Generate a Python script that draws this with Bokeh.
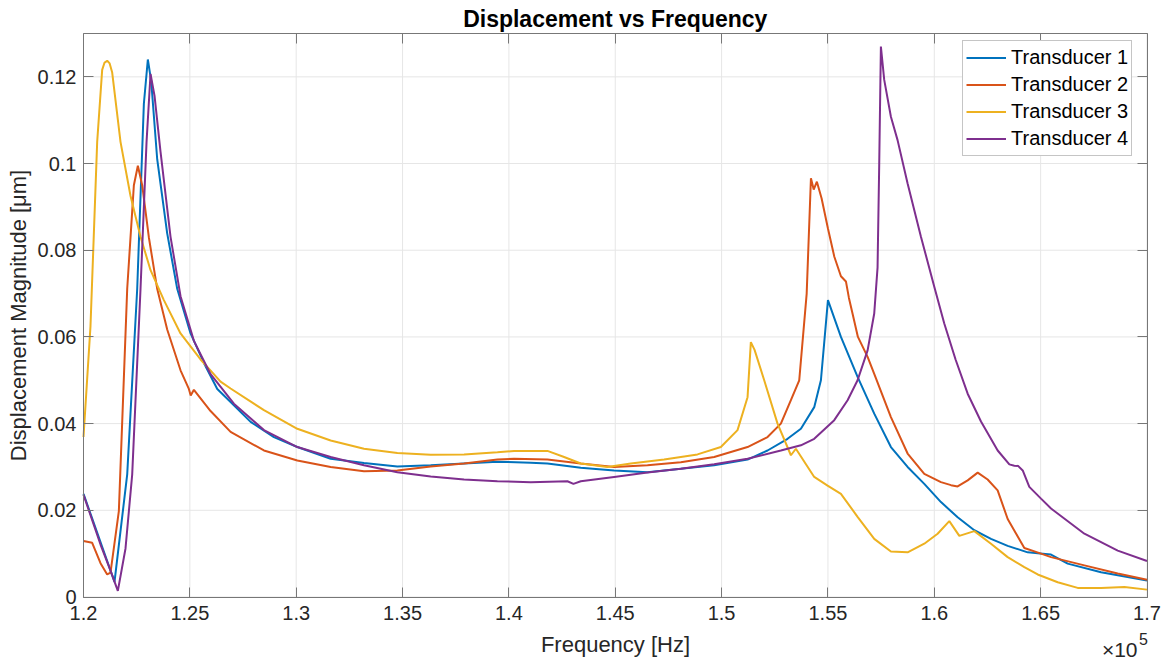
from bokeh.plotting import figure
from bokeh.models import (Range1d, FixedTicker, CustomJSTickFormatter, LinearAxis,
                          Legend, LegendItem, Label)
from bokeh.embed import file_html
from bokeh.resources import INLINE

# ---------------- data (frequency in Hz, displacement in micrometres) ----------------
f1 = [120000, 121458, 122055, 122525, 122838, 123025, 123183, 123465, 123935, 124406,
      125033, 125660, 126289, 126915, 127856, 128952, 130052, 131619, 133187, 134756,
      136323, 137892, 139460, 141027, 141811, 143379, 144947, 146515, 148083, 149651,
      151220, 152160, 153101, 153728, 154355, 154669, 155000, 155610, 156393, 157176,
      157960, 158745, 159529, 160313, 161097, 161881, 162665, 163450, 164390, 165100,
      165488, 166272, 167840, 170000]
t1 = [0.0238, 0.0035, 0.0283, 0.0711, 0.1138, 0.1240, 0.1190, 0.1010, 0.0839, 0.0711,
      0.0608, 0.0540, 0.0480, 0.0450, 0.0404, 0.0369, 0.0346, 0.0319, 0.0309, 0.0301,
      0.0304, 0.0308, 0.0312, 0.0310, 0.0308, 0.0298, 0.0292, 0.0288, 0.0296, 0.0304,
      0.0317, 0.0338, 0.0365, 0.0388, 0.0438, 0.0500, 0.0685, 0.0600, 0.0508, 0.0423,
      0.0346, 0.0300, 0.0261, 0.0219, 0.0184, 0.0154, 0.0134, 0.0118, 0.0103, 0.0100,
      0.0098, 0.0077, 0.0057, 0.0038]

f2 = [120000, 120408, 120800, 121114, 121270, 121662, 122055, 122368, 122556, 122760,
      123072, 123465, 123935, 124562, 124954, 125040, 125190, 125974, 126915, 128483,
      130052, 131619, 133187, 134756, 136323, 137892, 139460, 140243, 141811, 143379,
      144947, 146515, 148083, 149651, 151220, 152160, 152787, 153258, 153650, 154000,
      154200, 154330, 154480, 154700, 155000, 155300, 155610, 155845, 155986, 156174,
      156409, 156864, 157176, 157960, 158745, 159529, 160313, 160785, 161097, 161569,
      162040, 162508, 162978, 163450, 164233, 165017, 165488, 167056, 168624, 170000]
t2 = [0.0129, 0.0125, 0.0078, 0.0052, 0.0056, 0.0198, 0.0711, 0.0950, 0.0995, 0.0950,
      0.0830, 0.0711, 0.0617, 0.0523, 0.0480, 0.0465, 0.0478, 0.0429, 0.0381, 0.0338,
      0.0315, 0.0300, 0.0290, 0.0292, 0.0301, 0.0308, 0.0317, 0.0319, 0.0317, 0.0308,
      0.0300, 0.0304, 0.0311, 0.0323, 0.0346, 0.0369, 0.0400, 0.0454, 0.0500, 0.0700,
      0.0966, 0.0940, 0.0958, 0.0920, 0.0850, 0.0785, 0.0740, 0.0728, 0.0690, 0.0650,
      0.0600, 0.0554, 0.0515, 0.0415, 0.0331, 0.0284, 0.0265, 0.0258, 0.0255, 0.0269,
      0.0287, 0.0271, 0.0246, 0.0180, 0.0113, 0.0100, 0.0092, 0.0073, 0.0054, 0.0040]

f3 = [120000, 120329, 120643, 120878, 120990, 121114, 121230, 121349, 121740, 122211,
      122681, 123152, 123779, 124562, 125503, 126444, 126915, 128483, 130052, 131619,
      133187, 134756, 136323, 137892, 139460, 140243, 141811, 142595, 143379, 144633,
      145731, 147299, 148867, 149965, 150749, 151220, 151375, 151550, 152003, 152630,
      153258, 153493, 154355, 154982, 155610, 156393, 157176, 157960, 158745, 159529,
      160156, 160706, 161176, 161881, 162665, 163450, 164233, 164861, 165802, 166742,
      167840, 168938, 170000]
t3 = [0.0369, 0.0625, 0.1050, 0.1216, 0.1233, 0.1237, 0.1231, 0.1210, 0.1050, 0.0925,
      0.0831, 0.0754, 0.0685, 0.0608, 0.0548, 0.0497, 0.0481, 0.0431, 0.0388, 0.0361,
      0.0342, 0.0332, 0.0328, 0.0329, 0.0334, 0.0337, 0.0337, 0.0323, 0.0308, 0.0300,
      0.0308, 0.0317, 0.0329, 0.0346, 0.0385, 0.0461, 0.0588, 0.0570, 0.0500, 0.0400,
      0.0327, 0.0342, 0.0277, 0.0257, 0.0238, 0.0185, 0.0134, 0.0105, 0.0103, 0.0123,
      0.0146, 0.0175, 0.0141, 0.0152, 0.0123, 0.0092, 0.0069, 0.0052, 0.0034, 0.0021,
      0.0021, 0.0023, 0.0017]

f4 = [120000, 120800, 121270, 121615, 121975, 122290, 122681, 122964, 123152, 123340,
      123622, 124092, 124562, 125190, 125974, 127070, 128483, 130052, 131619, 133187,
      134756, 136323, 137892, 139460, 141027, 142752, 143034, 143379, 144947, 146515,
      148083, 149651, 151220, 152787, 153728, 154355, 155296, 155924, 156393, 156864,
      157176, 157332, 157411, 157489, 157646, 157960, 158273, 158745, 159372, 159999,
      160469, 161000, 161569, 162195, 162980, 163528, 163763, 163950, 164157, 164467,
      165017, 165488, 167056, 168624, 170000]
t4 = [0.0236, 0.0121, 0.0061, 0.0014, 0.0112, 0.0283, 0.0711, 0.1050, 0.1207, 0.1156,
      0.1027, 0.0831, 0.0694, 0.0591, 0.0514, 0.0446, 0.0385, 0.0346, 0.0323, 0.0304,
      0.0288, 0.0278, 0.0271, 0.0267, 0.0265, 0.0267, 0.0261, 0.0267, 0.0277, 0.0287,
      0.0296, 0.0306, 0.0319, 0.0338, 0.0350, 0.0365, 0.0408, 0.0454, 0.0500, 0.0569,
      0.0654, 0.0760, 0.1000, 0.1270, 0.1193, 0.1108, 0.1054, 0.0954, 0.0831, 0.0716,
      0.0631, 0.0548, 0.0469, 0.0405, 0.0338, 0.0306, 0.0303, 0.0302, 0.0292, 0.0254,
      0.0227, 0.0204, 0.0146, 0.0107, 0.0083]

series_names = ["Transducer 1", "Transducer 2", "Transducer 3", "Transducer 4"]
x_ticks = [120000, 125000, 130000, 135000, 140000, 145000, 150000, 155000, 160000, 165000, 170000]
y_ticks = [0, 0.02, 0.04, 0.06, 0.08, 0.10, 0.12]
x_lim = (120000, 170000)
y_lim = (0, 0.13)

title_text = "Displacement vs Frequency"
x_label = "Frequency [Hz]"
y_label = "Displacement Magnitude [\u03bcm]"
exponent_base = "\u00d710"
exponent_power = "5"

# ---------------- layout: the plotting frame fills the whole canvas ----------------
W, H = 1167, 663
AX_L, AX_R, AX_T, AX_B = 83, 1146.5, 33, 596.5     # pixel box of the drawn axes
KX = (AX_R - AX_L) / (x_lim[1] - x_lim[0])
KY = (AX_B - AX_T) / (y_lim[1] - y_lim[0])


def px_x(px):
    return x_lim[0] + (px - AX_L) / KX


def px_y(py):
    return y_lim[0] + (AX_B - py) / KY


colors = ["#0072BD", "#D95319", "#EDB120", "#7E2F8E"]
FONT = "Liberation Sans"
AX = "#777777"
TXT = "#262626"
GRID = "#e6e6e6"

p = figure(width=W, height=H, output_backend="svg", toolbar_location=None,
           x_range=Range1d(px_x(0), px_x(W)), y_range=Range1d(px_y(H), px_y(0)),
           x_axis_location=None, y_axis_location=None,
           min_border=0, min_border_left=0, min_border_right=0,
           min_border_top=0, min_border_bottom=0,
           background_fill_color="white", border_fill_color="white")
p.outline_line_color = None
p.grid.visible = False

# grid lines at the tick positions, limited to the axes box
p.segment(x0=x_ticks, y0=[y_lim[0]] * len(x_ticks), x1=x_ticks, y1=[y_lim[1]] * len(x_ticks),
          line_color=GRID, line_width=1, level="underlay")
p.segment(x0=[x_lim[0]] * len(y_ticks), y0=y_ticks, x1=[x_lim[1]] * len(y_ticks), y1=y_ticks,
          line_color=GRID, line_width=1, level="underlay")

xfmt = CustomJSTickFormatter(code="return String(Math.round(tick/10)/10000);")
yfmt = CustomJSTickFormatter(code="return String(Math.round(tick*100)/100);")
blank = CustomJSTickFormatter(code="return '';")

xa = LinearAxis(fixed_location=y_lim[0], bounds=x_lim, ticker=FixedTicker(ticks=x_ticks),
                formatter=xfmt, axis_label=x_label)
ya = LinearAxis(fixed_location=x_lim[0], bounds=y_lim, ticker=FixedTicker(ticks=y_ticks),
                formatter=yfmt, axis_label=y_label)
top_ax = LinearAxis(fixed_location=y_lim[1], bounds=x_lim, ticker=FixedTicker(ticks=x_ticks),
                    formatter=blank)
right_ax = LinearAxis(fixed_location=x_lim[1], bounds=y_lim, ticker=FixedTicker(ticks=y_ticks),
                      formatter=blank)
p.add_layout(xa, "below")
p.add_layout(ya, "left")
p.add_layout(top_ax, "above")
p.add_layout(right_ax, "right")

for ax in [xa, ya, top_ax, right_ax]:
    ax.axis_line_color = AX
    ax.axis_line_width = 1
    ax.major_tick_line_color = AX
    ax.major_tick_in = 10
    ax.major_tick_out = 0
    ax.minor_tick_line_color = None
    ax.major_label_text_font = FONT
    ax.major_label_text_font_size = "20px"
    ax.major_label_text_color = TXT
    ax.axis_label_text_font = FONT
    ax.axis_label_text_font_size = "22px"
    ax.axis_label_text_font_style = "normal"
    ax.axis_label_text_color = TXT
for ax in [top_ax, right_ax]:
    ax.major_label_text_font_size = "0px"
    ax.major_label_standoff = 0
xa.major_label_standoff = 9
ya.major_label_standoff = 7
xa.axis_label_standoff = 8
ya.axis_label_standoff = 4

items = []
for name, fx, ty, c in zip(series_names, [f1, f2, f3, f4], [t1, t2, t3, t4], colors):
    r = p.line(fx, ty, line_color=c, line_width=2)
    items.append(LegendItem(label=name, renderers=[r]))

legend = Legend(items=items, location=(962, H - 156))
legend.margin = 0
legend.padding = 3
legend.spacing = 0
legend.glyph_width = 40
legend.glyph_height = 27
legend.label_height = 27
legend.label_standoff = 5
legend.label_text_font = FONT
legend.label_text_font_size = "20px"
legend.label_text_color = "black"
legend.border_line_color = "#8c8c8c"
legend.border_line_width = 1
legend.background_fill_color = "white"
legend.background_fill_alpha = 1
p.add_layout(legend, "center")

title = Label(x=px_x((AX_L + AX_R) / 2), y=px_y(18), text=title_text, text_align="center",
              text_baseline="middle", text_font=FONT, text_font_size="23px",
              text_font_style="bold", text_color="black")
exp_base = Label(x=px_x(1137), y=px_y(649), text=exponent_base, text_align="right",
                 text_baseline="middle", text_font=FONT, text_font_size="21px", text_color=TXT)
exp_pow = Label(x=px_x(1147.5), y=px_y(638), text=exponent_power, text_align="right",
                text_baseline="middle", text_font=FONT, text_font_size="16px", text_color=TXT)
p.add_layout(title)
p.add_layout(exp_base)
p.add_layout(exp_pow)

open("out.html", "w").write(file_html(p, INLINE))
